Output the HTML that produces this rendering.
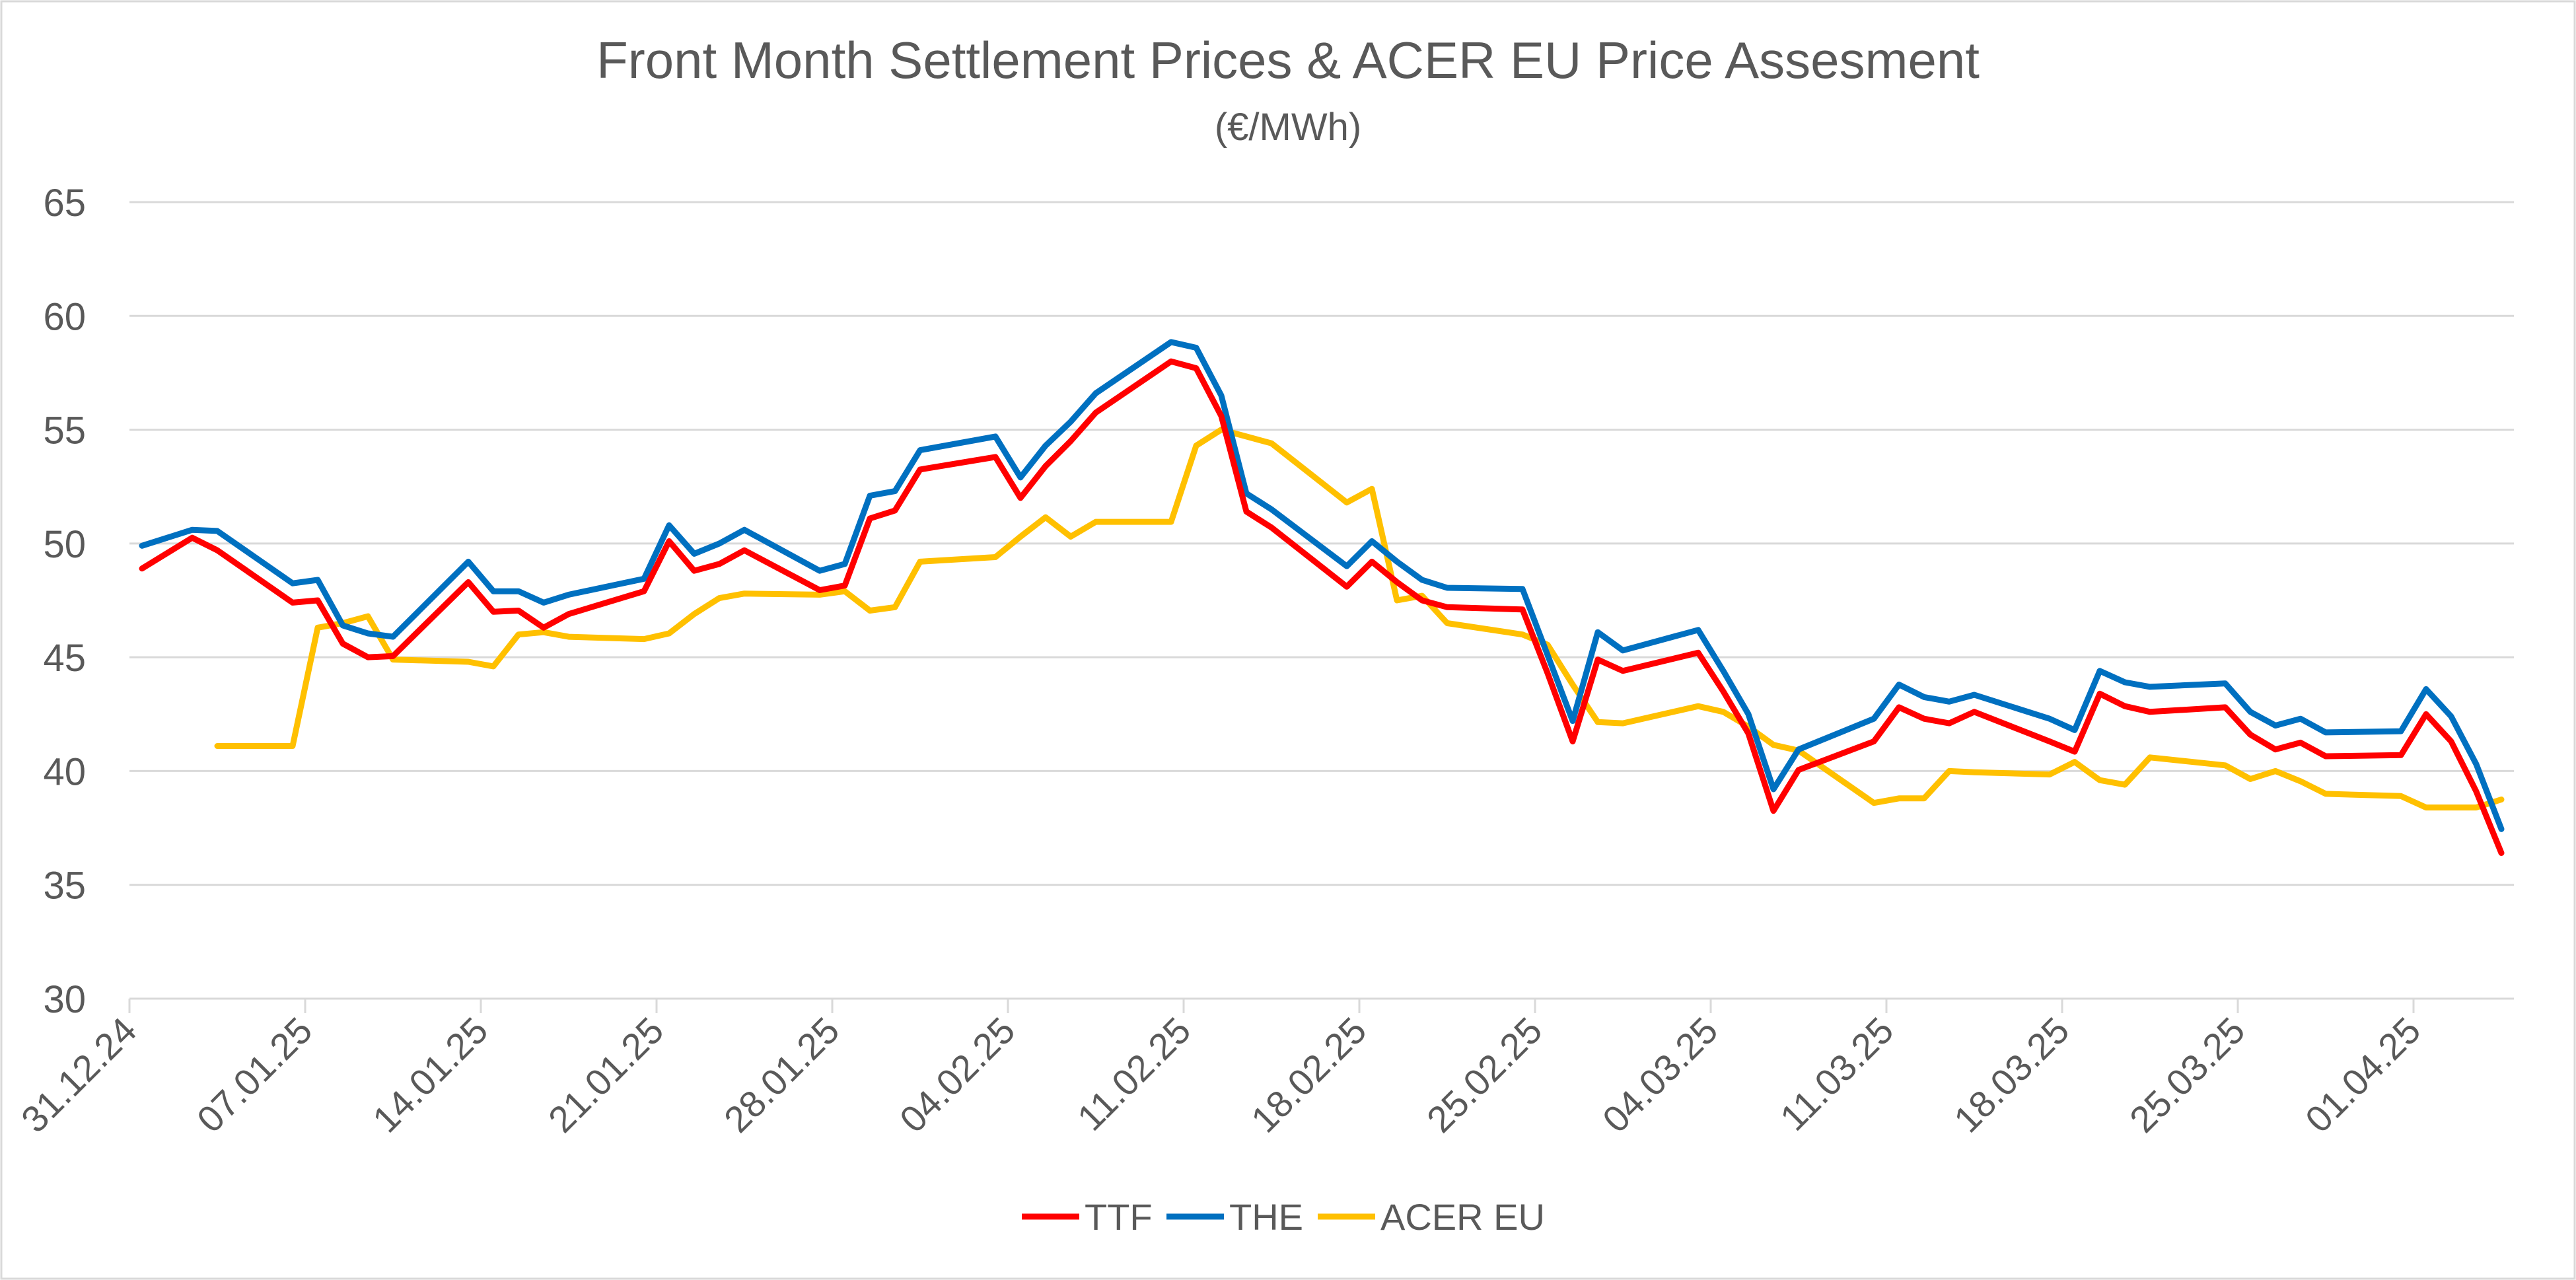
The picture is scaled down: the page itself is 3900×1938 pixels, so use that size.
<!DOCTYPE html>
<html><head><meta charset="utf-8"><style>
html,body{margin:0;padding:0;background:#fff;}
svg{display:block;font-family:"Liberation Sans",sans-serif;}
</style></head><body>
<svg id="chart" width="3900" height="1938" viewBox="0 0 3900 1938" xmlns="http://www.w3.org/2000/svg">
<rect x="2" y="2" width="3896" height="1934" fill="#fff" stroke="#d9d9d9" stroke-width="3"/>
<text x="1950" y="118" font-size="78" fill="#595959" text-anchor="middle">Front Month Settlement Prices &amp; ACER EU Price Assesment</text>
<text x="1950" y="212" font-size="58" fill="#595959" text-anchor="middle">(€/MWh)</text>
<g id="grid"></g><g id="yticks"></g><g id="xticks"></g><g id="series"></g>
<g>
<line x1="1547" y1="1842" x2="1634" y2="1842" stroke="#ff0000" stroke-width="9"/>
<text x="1642" y="1862" font-size="56" fill="#595959">TTF</text>
<line x1="1766" y1="1842" x2="1853" y2="1842" stroke="#0070c0" stroke-width="9"/>
<text x="1861" y="1862" font-size="56" fill="#595959">THE</text>
<line x1="1995" y1="1842" x2="2082" y2="1842" stroke="#ffc000" stroke-width="9"/>
<text x="2090" y="1862" font-size="56" fill="#595959">ACER EU</text>
</g>
</svg>
<script>
const ttfDays=[0,2,3,6,7,8,9,10,13,14,15,16,17,20,21,22,23,24,27,28,29,30,31,34,35,36,37,38,41,42,43,44,45,48,49,50,51,52,55,56,57,58,59,62,63,64,65,66,69,70,71,72,73,76,77,78,79,80,83,84,85,86,87,90,91,92,93,94];
const ttfVals=[48.9,50.25,49.7,47.4,47.5,45.6,45.0,45.05,48.3,47.0,47.05,46.3,46.9,47.9,50.1,48.8,49.1,49.7,47.95,48.15,51.1,51.45,53.25,53.8,52.0,53.4,54.5,55.75,58.0,57.7,55.6,51.4,50.7,48.1,49.2,48.3,47.5,47.2,47.1,44.3,41.3,44.9,44.4,45.2,43.5,41.65,38.25,40.05,41.3,42.8,42.3,42.1,42.6,41.3,40.85,43.4,42.85,42.6,42.8,41.6,40.95,41.25,40.65,40.7,42.5,41.3,39.1,36.4];
const theVals=[49.9,50.6,50.55,48.25,48.4,46.4,46.05,45.9,49.2,47.9,47.9,47.4,47.75,48.45,50.8,49.55,50.0,50.6,48.8,49.1,52.1,52.3,54.1,54.7,52.9,54.3,55.35,56.6,58.85,58.6,56.5,52.2,51.5,49.0,50.1,49.2,48.4,48.05,48.0,45.1,42.2,46.1,45.3,46.2,44.4,42.5,39.2,40.95,42.3,43.8,43.25,43.05,43.35,42.3,41.8,44.4,43.9,43.7,43.85,42.6,42.0,42.3,41.7,41.75,43.6,42.4,40.3,37.45];
const acerDays=[3,6,7,8,9,10,13,14,15,16,17,20,21,22,23,24,27,28,29,30,31,34,35,36,37,38,41,42,43,44,45,48,49,50,51,52,55,56,57,58,59,62,63,64,65,66,69,70,71,72,73,76,77,78,79,80,83,84,85,86,87,90,91,92,93,94];
const acerVals=[41.1,41.1,46.3,46.5,46.8,44.9,44.8,44.6,46.0,46.1,45.9,45.8,46.05,46.9,47.6,47.8,47.75,47.9,47.05,47.2,49.2,49.4,50.3,51.15,50.3,50.95,50.95,54.3,55.0,54.7,54.4,51.8,52.4,47.5,47.7,46.5,46.0,45.55,43.8,42.15,42.1,42.85,42.6,41.95,41.15,40.9,38.6,38.8,38.8,40.0,39.95,39.85,40.4,39.6,39.4,40.6,40.25,39.65,40.0,39.55,39.0,38.9,38.4,38.4,38.4,38.75];
const yTicks=[30,35,40,45,50,55,60,65];
const xTickLabels=["31.12.24","07.01.25","14.01.25","21.01.25","28.01.25","04.02.25","11.02.25","18.02.25","25.02.25","04.03.25","11.03.25","18.03.25","25.03.25","01.04.25"];
const NS="http://www.w3.org/2000/svg";
const L=196,R=3806,TOTALDAYS=95,Y0=1512,Y1=306,VMIN=30,VMAX=65;
const xDayEdge=d=>L+(R-L)*d/TOTALDAYS;
const xPt=d=>xDayEdge(d+0.5);
const yV=v=>Y0-(v-VMIN)/(VMAX-VMIN)*(Y0-Y1);
function mk(tag,attrs,parent){const e=document.createElementNS(NS,tag);for(const k in attrs)e.setAttribute(k,attrs[k]);parent.appendChild(e);return e;}
const grid=document.getElementById('grid'),yt=document.getElementById('yticks'),xt=document.getElementById('xticks'),ser=document.getElementById('series');
yTicks.forEach(v=>{
  const g=mk('line',{x1:L,x2:R,y1:yV(v),y2:yV(v),stroke:'#d9d9d9','stroke-width':3},grid);
  
  
  const t=mk('text',{x:130,y:yV(v)+21,'font-size':58,fill:'#595959','text-anchor':'end'},yt);
  
  
  t.textContent=v;
});
xTickLabels.forEach((lab,i)=>{
  const x=xDayEdge(i*7);
  const tk=mk('line',{x1:x,x2:x,y1:Y0,y2:Y0+22,stroke:'#d9d9d9','stroke-width':3},xt);
  
  
  const t=mk('text',{x:x+14,y:Y0+52,'font-size':56,fill:'#595959','text-anchor':'end',transform:`rotate(-45 ${x+14} ${Y0+52})`},xt);
  
  
  t.textContent=lab;
});
function series(days,vals,color,name){
  const pts=days.map((d,i)=>xPt(d).toFixed(1)+','+yV(vals[i]).toFixed(1)).join(' ');
  const p=mk('polyline',{points:pts,fill:'none',stroke:color,'stroke-width':9,'stroke-linejoin':'round','stroke-linecap':'round'},ser);
  
  
}
series(acerDays,acerVals,'#ffc000','acer-eu-line');
series(ttfDays,theVals,'#0070c0','the-line');
series(ttfDays,ttfVals,'#ff0000','ttf-line');
</script>
</body></html>
